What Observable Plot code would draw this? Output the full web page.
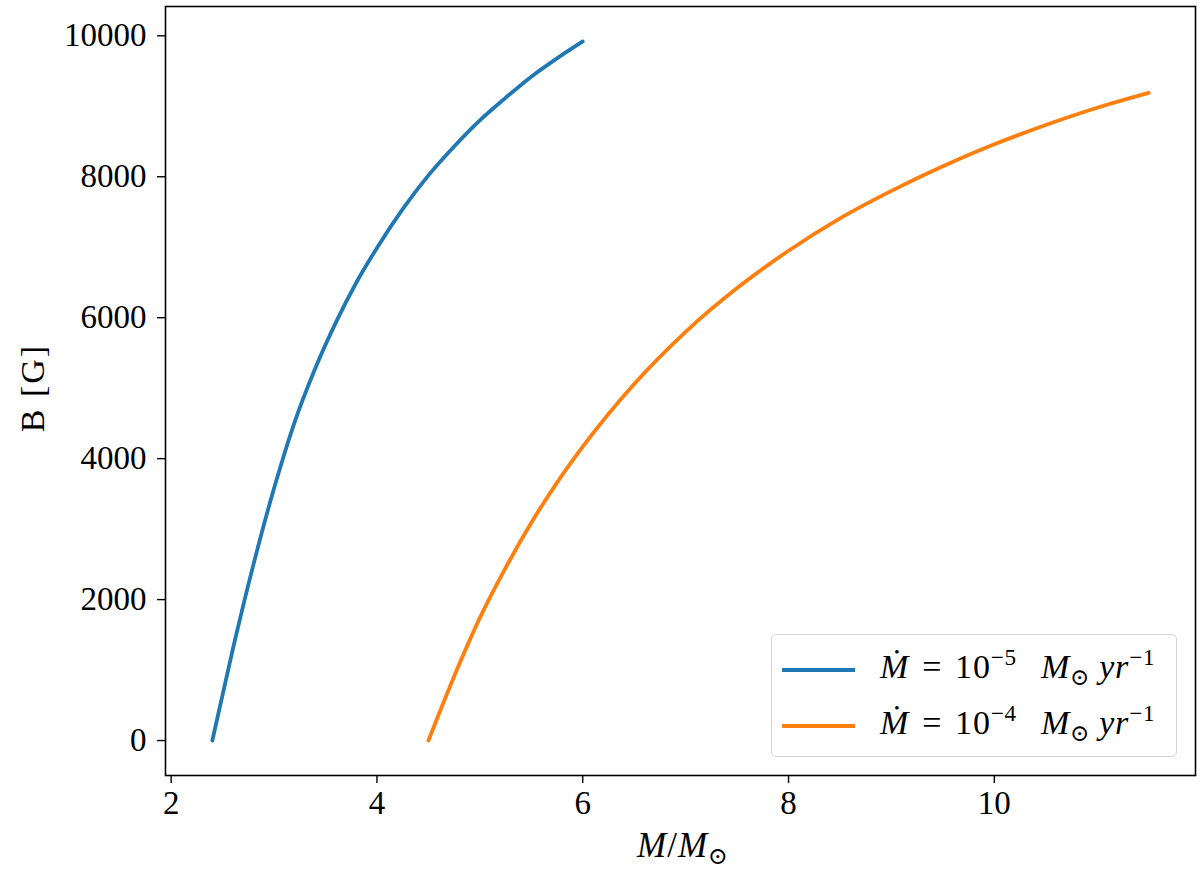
<!DOCTYPE html>
<html>
<head>
<meta charset="utf-8">
<script src="https://cdn.jsdelivr.net/npm/d3@7"></script>
<script src="https://cdn.jsdelivr.net/npm/@observablehq/plot@0.6"></script>
<style>
  html, body { margin: 0; padding: 0; background: #fff; }
  #wrap { position: relative; width: 1200px; height: 869px; font-family: "Liberation Serif", "DejaVu Serif", serif; }
  .lbl { position: absolute; color: #000; white-space: nowrap; line-height: 1; }
  .lbl i { font-style: italic; }
  #legend { position: absolute; left: 771px; top: 634px; width: 406px; height: 123px; border: 1.5px solid #d5d5d5; border-radius: 5px; background: rgba(255,255,255,0.8); box-sizing: border-box; }
  .lrow { position: absolute; left: 0; height: 40px; width: 100%; }
  .lline { position: absolute; left: 10px; width: 73px; height: 4px; top: 18px; }
  .ltext { position: absolute; left: 108px; top: 0px; font-size: 34px; white-space: nowrap; line-height: 1; letter-spacing: 0.8px; }
  .sp { display: inline-block; }
  sup { font-size: 0.68em; vertical-align: 0.55em; line-height: 0; }
  sub { font-size: 0.68em; vertical-align: -0.3em; line-height: 0; }
</style>
</head>
<body>
<div id="wrap"></div>
<script>
// Series
const blueMass = [2.4, 2.6, 2.8, 3.0, 3.2, 3.4, 3.6, 3.8, 4.0, 4.25, 4.5, 4.75, 5.0, 5.25, 5.5, 5.75, 6.0];
const blueB    = [0, 1300, 2500, 3580, 4520, 5280, 5930, 6500, 6990, 7540, 8020, 8430, 8800, 9120, 9420, 9680, 9920];
const orangeMass = [4.5, 4.75, 5.0, 5.25, 5.5, 5.75, 6.0, 6.5, 7.0, 7.5, 8.0, 8.5, 9.0, 9.5, 10.0, 10.5, 11.0, 11.5];
const orangeB    = [0, 910, 1740, 2450, 3090, 3660, 4170, 5060, 5800, 6420, 6950, 7410, 7800, 8150, 8460, 8735, 8980, 9190];
const seriesNames = ["1e-5", "1e-4"];
const seriesColors = ["#1f77b4", "#ff7f0e"];
const legendExponents = ["−5", "−4"];
const xTicks = [2, 4, 6, 8, 10];
const yTicks = [0, 2000, 4000, 6000, 8000, 10000];

const data = [
  ...blueMass.map((m, i) => ({ m, b: blueB[i], s: seriesNames[0] })),
  ...orangeMass.map((m, i) => ({ m, b: orangeB[i], s: seriesNames[1] }))
];

const font = '"Liberation Serif", "DejaVu Serif", serif';

const chart = Plot.plot({
  width: 1200,
  height: 869,
  marginLeft: 165,
  marginRight: 5,
  marginTop: 6,
  marginBottom: 94,
  style: { fontFamily: font, fontSize: "33px", color: "#000", background: "#fff" },
  x: { domain: [1.945, 11.955], label: null },
  y: { domain: [-496, 10416], label: null },
  color: { domain: seriesNames, range: seriesColors },
  marks: [
    Plot.line(data, { x: "m", y: "b", z: "s", stroke: "s", strokeWidth: 3.8, curve: "monotone-x" }),
    Plot.frame({ stroke: "#000", strokeWidth: 1.6 }),
    Plot.axisX({ ticks: xTicks, tickSize: 8, tickPadding: 7, tickFormat: d3.format("d"), label: null, strokeWidth: 1.4, fontSize: 33 }),
    Plot.axisY({ ticks: yTicks, tickSize: 8, tickPadding: 11, tickFormat: d3.format("d"), label: null, strokeWidth: 1.4, fontSize: 33 })
  ]
});

const wrap = document.getElementById("wrap");
wrap.appendChild(chart);

// Axis titles
const xl = document.createElement("div");
xl.className = "lbl";
xl.style.left = "683px"; xl.style.top = "828px";
xl.style.fontSize = "35px";
xl.style.letterSpacing = "1px";
xl.style.transform = "translateX(-50%)";
xl.innerHTML = "<i>M</i>/<i>M</i><sub>⊙</sub>";
wrap.appendChild(xl);

const yl = document.createElement("div");
yl.className = "lbl";
yl.style.left = "33px"; yl.style.top = "388px";
yl.style.fontSize = "34px";
yl.style.letterSpacing = "2px";
yl.style.transform = "translate(-50%, -50%) rotate(-90deg)";
yl.innerHTML = "B [G]";
wrap.appendChild(yl);

// Legend
const leg = document.createElement("div");
leg.id = "legend";
seriesNames.forEach((n, i) => {
  const row = document.createElement("div");
  row.className = "lrow";
  row.style.top = (15 + i * 56) + "px";
  row.innerHTML = `<div class="lline" style="background:${seriesColors[i]}"></div>` +
    `<div class="ltext"><i>Ṁ</i><span class="sp" style="margin:0 13px">=</span>10<sup>${legendExponents[i]}</sup>` +
    `<span class="sp" style="width:24px"></span><i>M</i><sub>⊙</sub><span class="sp" style="width:9px"></span><i>yr</i><sup>−1</sup></div>`;
  leg.appendChild(row);
});
wrap.appendChild(leg);
</script>
</body>
</html>
